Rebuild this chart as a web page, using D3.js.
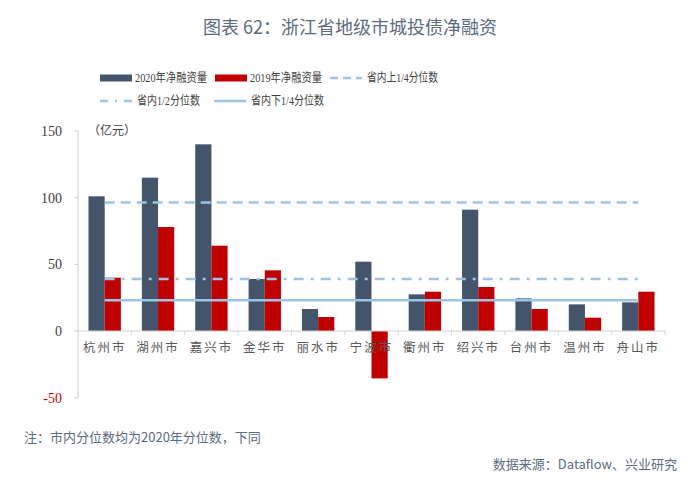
<!DOCTYPE html>
<html>
<head>
<meta charset="utf-8">
<script src="https://cdn.jsdelivr.net/npm/d3@7"></script>
<style>
body { margin: 0; background: #fff; }
svg { display: block; }
</style>
</head>
<body>
<svg width="700" height="492"></svg>
<script>
// 城市与数据（亿元）
const cities = ["杭州市", "湖州市", "嘉兴市", "金华市", "丽水市", "宁波市", "衢州市", "绍兴市", "台州市", "温州市", "舟山市"];
const net2020 = [101, 115, 140, 39, 16.5, 52, 27.5, 91, 24.5, 20, 21.5];
const net2019 = [40, 78, 64, 45.5, 10.5, -35.5, 29.5, 33, 16.5, 10, 29.5];
const quartiles = [
    { name: "省内上1/4分位数", value: 96.3, dash: "10,6" },
    { name: "省内1/2分位数", value: 39, dash: "10,7,3,7" },
    { name: "省内下1/4分位数", value: 23, dash: null }
];
const yTicks = [150, 100, 50, 0, -50];

const serif = "'Liberation Serif','Noto Sans CJK SC',serif";
const sans = "'Noto Sans CJK SC','Noto Sans',sans-serif";
const navy = "#44546a", red = "#c00000", lineBlue = "#9dc3e6";

const svg = d3.select("svg");

const x = d3.scaleBand().domain(cities).range([78, 665]);
const y = d3.scaleLinear().domain([-50, 150]).range([397.7, 131]);
const inner = d3.scaleBand().domain(["a", "b"]).range([10.5, x.bandwidth() - 10.5]);

// 标题
svg.append("text")
    .attr("x", 350).attr("y", 34)
    .attr("text-anchor", "middle")
    .style("font-family", sans)
    .style("font-size", "18px")
    .style("fill", "#5b6b80")
    .text("图表 62：浙江省地级市城投债净融资");

// y轴
svg.append("line")
    .attr("x1", 78).attr("x2", 78)
    .attr("y1", y(150)).attr("y2", y(-50))
    .attr("stroke", "#d0d0d0");

svg.append("g")
    .selectAll("line")
    .data(yTicks)
    .join("line")
    .attr("x1", 74).attr("x2", 78)
    .attr("y1", d => y(d)).attr("y2", d => y(d))
    .attr("stroke", "#d0d0d0");

svg.append("g")
    .selectAll("text")
    .data(yTicks)
    .join("text")
    .attr("x", 62).attr("y", d => y(d))
    .attr("dy", "0.35em")
    .attr("text-anchor", "end")
    .style("font-family", serif)
    .style("font-size", "14px")
    .style("fill", d => d < 0 ? red : "#404040")
    .text(d => d);

svg.append("text")
    .attr("x", 88).attr("y", y(150))
    .attr("dy", "0.35em")
    .style("font-family", sans)
    .style("font-size", "12px")
    .style("fill", "#404040")
    .text("（亿元）");

// 柱子
const groups = svg.append("g")
    .selectAll("g")
    .data(cities)
    .join("g")
    .attr("transform", d => `translate(${x(d)},0)`);

groups.append("rect")
    .attr("x", inner("a"))
    .attr("width", inner.bandwidth())
    .attr("y", (d, i) => y(Math.max(0, net2020[i])))
    .attr("height", (d, i) => Math.abs(y(net2020[i]) - y(0)))
    .attr("fill", navy);

groups.append("rect")
    .attr("x", inner("b"))
    .attr("width", inner.bandwidth())
    .attr("y", (d, i) => y(Math.max(0, net2019[i])))
    .attr("height", (d, i) => Math.abs(y(net2019[i]) - y(0)))
    .attr("fill", red);

// x轴
svg.append("line")
    .attr("x1", 78).attr("x2", 665)
    .attr("y1", y(0)).attr("y2", y(0))
    .attr("stroke", "#d0d0d0");

svg.append("g")
    .selectAll("line")
    .data(cities)
    .join("line")
    .attr("x1", d => x(d) + x.step())
    .attr("x2", d => x(d) + x.step())
    .attr("y1", y(0)).attr("y2", y(0) + 4)
    .attr("stroke", "#d0d0d0");

svg.append("g")
    .selectAll("text")
    .data(cities)
    .join("text")
    .attr("x", d => x(d) + x.bandwidth() / 2)
    .attr("y", 352)
    .attr("text-anchor", "middle")
    .style("font-family", sans)
    .style("font-size", "12.5px")
    .style("letter-spacing", "2px")
    .style("fill", "#595959")
    .text(d => d);

// 分位数线
const xStart = x(cities[0]) + x.bandwidth() / 2;
const xEnd = x(cities[cities.length - 1]) + x.bandwidth() / 2;
svg.append("g")
    .selectAll("line")
    .data(quartiles)
    .join("line")
    .attr("x1", xStart).attr("x2", xEnd)
    .attr("y1", d => y(d.value)).attr("y2", d => y(d.value))
    .attr("stroke", lineBlue)
    .attr("stroke-width", 2.5)
    .attr("stroke-dasharray", d => d.dash);

// 图例
const legendItems = [
    { name: "2020年净融资量", type: "rect", color: navy, x: 100, y: 78, w: 72 },
    { name: "2019年净融资量", type: "rect", color: red, x: 215, y: 78, w: 72 },
    { name: quartiles[0].name, type: "line", dash: "8,5", x: 330, y: 78, w: 71 },
    { name: quartiles[1].name, type: "line", dash: "8,7,2,7", x: 100, y: 101, w: 63 },
    { name: quartiles[2].name, type: "line", dash: null, x: 214, y: 101, w: 73 }
];

const legend = svg.append("g")
    .selectAll("g")
    .data(legendItems)
    .join("g")
    .attr("transform", d => `translate(${d.x},${d.y})`);

legend.filter(d => d.type === "rect")
    .append("rect")
    .attr("x", 0).attr("y", -3.5)
    .attr("width", 32).attr("height", 7)
    .attr("fill", d => d.color);

legend.filter(d => d.type === "line")
    .append("line")
    .attr("x1", 0).attr("x2", 32)
    .attr("y1", 0).attr("y2", 0)
    .attr("stroke", lineBlue)
    .attr("stroke-width", 2.5)
    .attr("stroke-dasharray", d => d.dash);

legend.append("text")
    .attr("x", d => d.type === "rect" ? 35 : 37).attr("y", 0)
    .attr("dy", "0.35em")
    .attr("textLength", d => d.w)
    .attr("lengthAdjust", "spacingAndGlyphs")
    .style("font-family", serif)
    .style("font-size", "12px")
    .style("fill", "#404040")
    .text(d => d.name);

// 注释与来源
svg.append("text")
    .attr("x", 24).attr("y", 442)
    .style("font-family", sans)
    .style("font-size", "13px")
    .style("fill", "#5b6b80")
    .text("注：市内分位数均为2020年分位数，下同");

svg.append("text")
    .attr("x", 677).attr("y", 469)
    .attr("text-anchor", "end")
    .style("font-family", sans)
    .style("font-size", "13px")
    .style("fill", "#5b6b80")
    .text("数据来源：Dataflow、兴业研究");
</script>
</body>
</html>
